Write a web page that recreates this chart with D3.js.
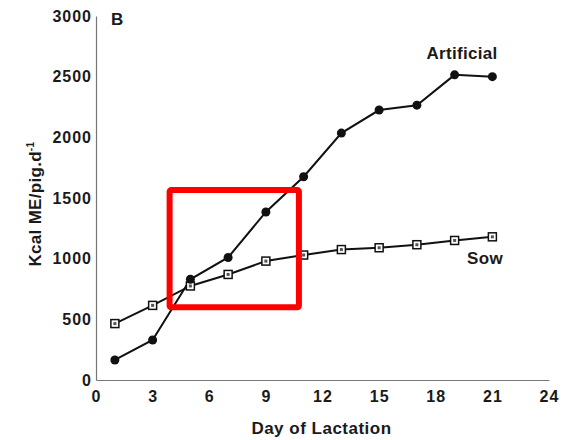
<!DOCTYPE html>
<html>
<head>
<meta charset="utf-8">
<script src="https://cdn.jsdelivr.net/npm/d3@7"></script>
<style>
  body { margin: 0; background: #fff; }
  text { font-family: "Liberation Sans", Arial, sans-serif; font-weight: bold; fill: #1a1a1a; }
</style>
</head>
<body>
<div id="chart"></div>
<script>
/* CONSTANTS AND GLOBALS */
const width = 565;
const height = 440;
const margin = { top: 16, right: 16, bottom: 60, left: 96 };

// DATA
const days = [1, 3, 5, 7, 9, 11, 13, 15, 17, 19, 21];
const artificial = [165, 330, 830, 1010, 1385, 1675, 2035, 2225, 2265, 2515, 2500];
const sow = [465, 615, 775, 870, 980, 1030, 1075, 1090, 1115, 1150, 1180];
const xTicks = [0, 3, 6, 9, 12, 15, 18, 21, 24];
const yTicks = [0, 500, 1000, 1500, 2000, 2500, 3000];
// highlight box, in data units (days, kcal)
const boxDays = [3.9, 10.75];
const boxKcal = [600, 1565];

const svg = d3.select("#chart")
  .append("svg")
  .attr("width", width)
  .attr("height", height);

const xScale = d3.scaleLinear()
  .domain([0, 24])
  .range([margin.left, width - margin.right]);

const yScale = d3.scaleLinear()
  .domain([0, 3000])
  .range([height - margin.bottom, margin.top]);

// Axes
const xAxis = d3.axisBottom(xScale).tickValues(xTicks).tickSize(0).tickPadding(11);
svg.append("g")
  .attr("transform", `translate(0, ${height - margin.bottom})`)
  .call(xAxis)
  .call(g => g.select(".domain").attr("stroke", "#777").attr("stroke-width", 1.2))
  .call(g => g.selectAll("text").style("font-size", "16px").style("letter-spacing", "1px"));

const yAxis = d3.axisLeft(yScale).tickValues(yTicks).tickFormat(d3.format("d")).tickSize(0).tickPadding(4);
svg.append("g")
  .attr("transform", `translate(${margin.left}, 0)`)
  .call(yAxis)
  .call(g => g.select(".domain").attr("stroke", "#777").attr("stroke-width", 1.2))
  .call(g => g.selectAll("text").style("font-size", "16px").style("letter-spacing", "1px"));

// Lines
const artData = days.map((d, i) => ({ day: d, v: artificial[i] }));
const sowData = days.map((d, i) => ({ day: d, v: sow[i] }));

const lineGen = d3.line()
  .x(d => xScale(d.day))
  .y(d => yScale(d.v));

svg.append("path")
  .datum(sowData)
  .attr("fill", "none")
  .attr("stroke", "#111")
  .attr("stroke-width", 2)
  .attr("d", lineGen);

svg.append("path")
  .datum(artData)
  .attr("fill", "none")
  .attr("stroke", "#111")
  .attr("stroke-width", 2)
  .attr("d", lineGen);

// Sow markers: small open squares with a dot
const sq = 8;
const sowPts = svg.selectAll(".sowpt")
  .data(sowData)
  .join("g")
  .attr("class", "sowpt")
  .attr("transform", d => `translate(${xScale(d.day)}, ${yScale(d.v)})`);
sowPts.append("rect")
  .attr("x", -sq / 2).attr("y", -sq / 2)
  .attr("width", sq).attr("height", sq)
  .attr("fill", "#fff")
  .attr("stroke", "#111")
  .attr("stroke-width", 1.5);
sowPts.append("rect")
  .attr("x", -1.5).attr("y", -1.5)
  .attr("width", 3).attr("height", 3)
  .attr("fill", "#555");

// Artificial markers: filled circles
svg.selectAll(".artpt")
  .data(artData)
  .join("circle")
  .attr("class", "artpt")
  .attr("cx", d => xScale(d.day))
  .attr("cy", d => yScale(d.v))
  .attr("r", 4.5)
  .attr("fill", "#111");

// Series labels
svg.append("text")
  .attr("x", 462).attr("y", 59)
  .attr("text-anchor", "middle")
  .style("font-size", "17px")
  .style("letter-spacing", "0.3px")
  .text("Artificial");

svg.append("text")
  .attr("x", 485).attr("y", 264)
  .attr("text-anchor", "middle")
  .style("font-size", "17px")
  .style("letter-spacing", "0.3px")
  .text("Sow");

// Panel letter
svg.append("text")
  .attr("x", 111).attr("y", 25)
  .style("font-size", "17px")
  .text("B");

// Axis titles
svg.append("text")
  .attr("x", xScale(12) - 1)
  .attr("y", 434)
  .attr("text-anchor", "middle")
  .style("font-size", "17px")
  .style("letter-spacing", "0.5px")
  .text("Day of Lactation");

const yl = svg.append("text")
  .attr("transform", `translate(41, ${yScale(1450)}) rotate(-90)`)
  .attr("text-anchor", "middle")
  .style("font-size", "17px")
  .style("letter-spacing", "0.3px");
yl.append("tspan").text("Kcal ME/pig.d");
yl.append("tspan").attr("dy", -7).style("font-size", "10px").text("-1");

// Red highlight box
svg.append("rect")
  .attr("x", xScale(boxDays[0]))
  .attr("y", yScale(boxKcal[1]))
  .attr("width", xScale(boxDays[1]) - xScale(boxDays[0]))
  .attr("height", yScale(boxKcal[0]) - yScale(boxKcal[1]))
  .attr("rx", 1.5)
  .attr("fill", "none")
  .attr("stroke", "#ff0000")
  .attr("stroke-width", 6);
</script>
</body>
</html>
